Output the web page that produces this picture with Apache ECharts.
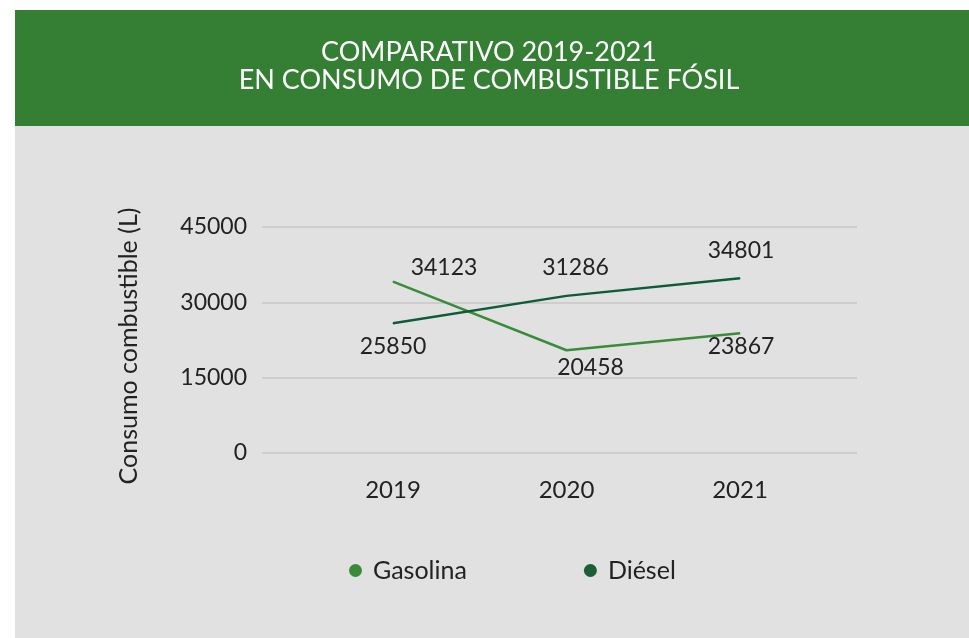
<!DOCTYPE html>
<html>
<head>
<meta charset="utf-8">
<script src="https://cdn.jsdelivr.net/npm/echarts@6/dist/echarts.min.js"></script>
<style>
  html, body { margin: 0; padding: 0; background: #ffffff; }
  #chart { width: 969px; height: 638px; }
</style>
</head>
<body>
<div id="chart"></div>
<script>
// Consumo anual de combustible fósil (litros)
const years = ['2019', '2020', '2021'];
const gasolina = [34123, 20458, 23867];
const diesel = [25850, 31286, 34801];
const yTicks = [0, 15000, 30000, 45000];

// label placement around each point: [dx, dy]
const gasolinaLabelOffsets = [[51, -14], [24, 17], [1, 13]];
const dieselLabelOffsets = [[0, 23], [9, -28], [1, -28]];

const FONT = 'Lato, "Noto Sans", sans-serif';
const TEXT = '#222222';

function withLabels(values, offsets) {
  return values.map((v, i) => ({
    value: v,
    label: { offset: offsets[i] }
  }));
}

const chart = echarts.init(document.getElementById('chart'), null, { renderer: 'canvas' });

chart.setOption({
  animation: false,
  backgroundColor: '#ffffff',
  graphic: [
    { type: 'rect', z: -10, shape: { x: 15, y: 10, width: 954, height: 116 }, style: { fill: '#357f34' } },
    { type: 'rect', z: -10, shape: { x: 15, y: 126, width: 954, height: 512 }, style: { fill: '#e1e1e1' } }
  ],
  title: {
    text: 'COMPARATIVO 2019-2021\nEN CONSUMO DE COMBUSTIBLE FÓSIL',
    left: 489,
    top: 38,
    textAlign: 'center',
    padding: 0,
    textStyle: {
      color: '#ffffff',
      fontFamily: FONT,
      fontWeight: 'normal',
      fontSize: 27,
      lineHeight: 28
    }
  },
  legend: {
    left: 344,
    top: 553,
    icon: 'circle',
    itemWidth: 13,
    itemHeight: 13,
    itemGap: 117,
    textStyle: { color: TEXT, fontFamily: FONT, fontSize: 25, padding: [0, 0, 0, 6] },
    data: ['Gasolina', 'Diésel']
  },
  grid: [
    { left: 262, right: 112, top: 227, bottom: 185 },
    { left: 393, right: 229, top: 227, bottom: 185 }
  ],
  xAxis: [
    { type: 'category', gridIndex: 0, data: years, show: false },
    {
      type: 'category', gridIndex: 1, data: years, boundaryGap: false,
      axisLine: { show: false }, axisTick: { show: false },
      axisLabel: { color: TEXT, fontFamily: FONT, fontSize: 24, margin: 25 }
    }
  ],
  yAxis: [
    {
      type: 'value', gridIndex: 0,
      min: yTicks[0], max: yTicks[yTicks.length - 1], interval: yTicks[1] - yTicks[0],
      name: 'Consumo combustible (L)',
      nameLocation: 'middle',
      nameRotate: 90,
      nameGap: 121,
      nameTextStyle: { color: TEXT, fontFamily: FONT, fontSize: 25, padding: [0, 12, 0, 0] },
      axisLine: { show: false }, axisTick: { show: false },
      axisLabel: { color: TEXT, fontFamily: FONT, fontSize: 23, margin: 15, formatter: v => String(v) },
      splitLine: { lineStyle: { color: '#c6c6c6', width: 1.5 } }
    },
    {
      type: 'value', gridIndex: 1,
      min: yTicks[0], max: yTicks[yTicks.length - 1], interval: yTicks[1] - yTicks[0],
      show: false, splitLine: { show: false }
    }
  ],
  series: [
    {
      name: 'Gasolina',
      type: 'line',
      xAxisIndex: 1, yAxisIndex: 1,
      data: withLabels(gasolina, gasolinaLabelOffsets),
      symbol: 'circle', symbolSize: 1, showSymbol: true,
      lineStyle: { color: '#3a8c3a', width: 2.5 },
      itemStyle: { color: '#3b8a3b' },
      label: { show: true, position: 'inside', color: TEXT, fontFamily: FONT, fontSize: 23 }
    },
    {
      name: 'Diésel',
      type: 'line',
      xAxisIndex: 1, yAxisIndex: 1,
      data: withLabels(diesel, dieselLabelOffsets),
      symbol: 'circle', symbolSize: 1, showSymbol: true,
      lineStyle: { color: '#0d5b39', width: 2.5 },
      itemStyle: { color: '#1b5e37' },
      label: { show: true, position: 'inside', color: TEXT, fontFamily: FONT, fontSize: 23 }
    }
  ]
});
</script>
</body>
</html>
